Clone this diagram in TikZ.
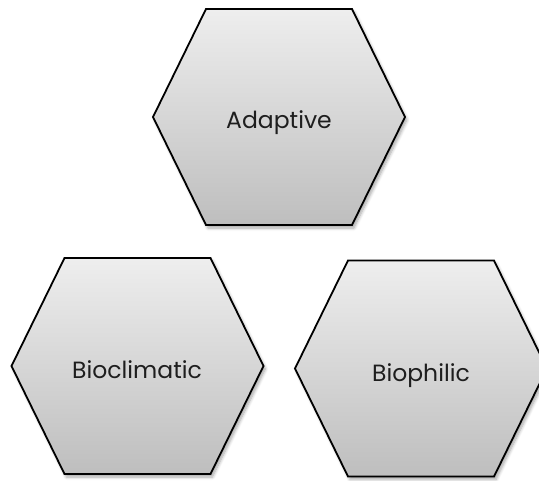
\documentclass[tikz,border=0pt]{standalone}
\usepackage{fontspec}
\setmainfont{Poppins}
\usetikzlibrary{shadows.blur}
\definecolor{hextop}{RGB}{238,238,238}
\definecolor{hexbot}{RGB}{190,190,190}
\definecolor{hextext}{RGB}{30,30,30}
\tikzset{
  hexface/.style={draw=black, line width=1.8pt, line join=miter,
    top color=hextop, bottom color=hexbot,
    blur shadow={shadow xshift=2pt, shadow yshift=-3pt, shadow blur steps=6,
                 shadow blur radius=3pt, shadow opacity=35}},
  hexlabel/.style={text=hextext, font=\fontsize{23.5}{27}\selectfont, inner sep=0pt}
}
\newcommand{\hexat}[2]{%
  \path[hexface] (#1-126,#2) -- (#1-73,#2-108) -- (#1+73,#2-108) -- (#1+126,#2)
    -- (#1+73,#2+108) -- (#1-73,#2+108) -- cycle;}
\begin{document}
\begin{tikzpicture}[x=1pt,y=-1pt]
\useasboundingbox (0,0) rectangle (539,481);
\hexat{279}{117}
\hexat{137.5}{366}
\hexat{421}{368.5}
\node[hexlabel, anchor=base] (adaptive) at (279,128.7) {Adaptive};
\node[hexlabel, anchor=base] (bioclimatic) at (137,379) {Bioclimatic};
\node[hexlabel, anchor=base] (biophilic) at (421,381.7) {Biophilic};
\end{tikzpicture}
\end{document}
